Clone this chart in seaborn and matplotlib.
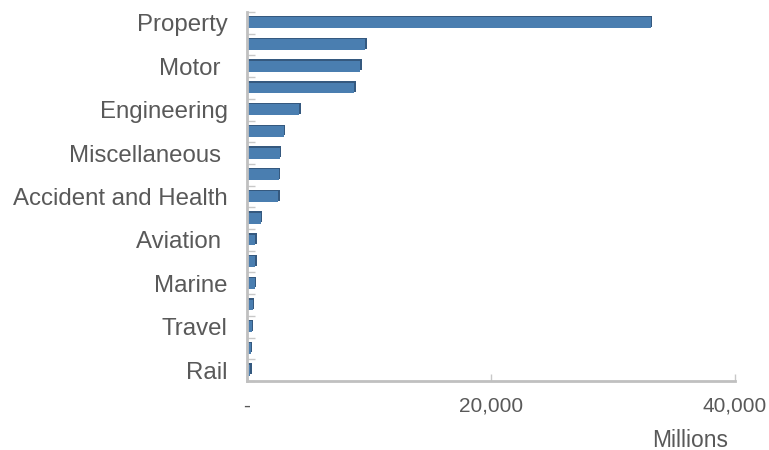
import matplotlib
matplotlib.use("Agg")
import matplotlib.pyplot as plt
import matplotlib.patheffects as pe
from matplotlib.ticker import FixedLocator
import seaborn as sns
import pandas as pd

# Gross written premium by line of business (millions)
line_labels = ["Property", "", "Motor ", "", "Engineering", "", "Miscellaneous ", "",
               "Accident and Health", "", "Aviation ", "", "Marine", "", "Travel", "", "Rail"]
premium = [33100, 9700, 9300, 8800, 4300, 3000, 2700, 2600, 2550,
           1120, 680, 680, 650, 490, 410, 300, 270]
x_ticks = [0, 20000, 40000]
x_tick_labels = ["-", "20,000", "40,000"]

sns.set_theme(style="white")
plt.rcParams["font.family"] = ["Liberation Sans", "DejaVu Sans"]

df = pd.DataFrame({"rank": list(range(len(premium))), "premium": premium})

fig = plt.figure(figsize=(7.69, 4.5), dpi=100)
ax = fig.add_axes([0.3212, 0.1533, 0.6346, 0.82])

sns.barplot(data=df, x="premium", y="rank", orient="h", order=df["rank"],
            color="#4a7eb0", saturation=1, width=0.5, ax=ax)

# bevelled look: soft dark edge offset up and to the right
for bar in ax.patches:
    bar.set_edgecolor("none")
    bar.set_path_effects([
        pe.SimplePatchShadow(offset=(1.0, 1.0), shadow_rgbFace="#35597f", alpha=1.0),
        pe.Normal(),
    ])

ax.set_xlim(0, 40000)
ax.set_ylim(len(premium) - 0.5, -0.5)

ax.set_xticks(x_ticks)
ax.set_xticklabels(x_tick_labels, fontsize=15, color="#595959")
ax.set_yticks(range(len(premium)))
ax.set_yticklabels(line_labels, fontsize=17.3, color="#595959")
ax.yaxis.set_minor_locator(FixedLocator([i - 0.5 for i in range(len(premium) + 1)]))

ax.tick_params(axis="y", which="major", length=0, pad=14)
ax.tick_params(axis="y", which="minor", left=True, direction="in", length=6,
               width=1.0, color="#c8c8c8")
ax.tick_params(axis="x", which="major", bottom=True, direction="in", length=5,
               width=1.0, color="#c8c8c8", pad=11)

ax.set_xlabel("")
ax.set_ylabel("")
for side in ["top", "right"]:
    ax.spines[side].set_visible(False)
for side in ["left", "bottom"]:
    ax.spines[side].set_color("#c0c0c0")
    ax.spines[side].set_linewidth(2.0)

fig.text(0.9467, 0.0222, "Millions", ha="right", va="center", fontsize=16.5, color="#595959")

fig.savefig("out.png", dpi=100, facecolor="white")
